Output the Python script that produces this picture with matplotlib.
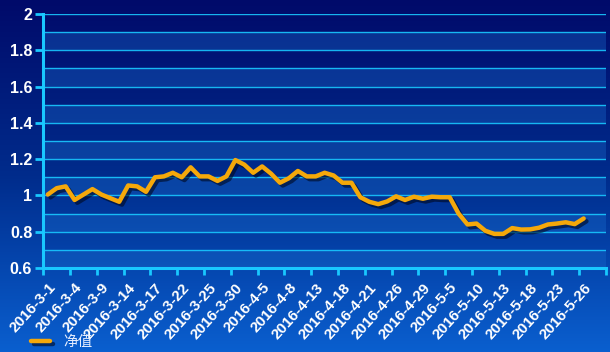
import numpy as np
import matplotlib.pyplot as plt
import matplotlib.patheffects as pe
from matplotlib.colors import LinearSegmentedColormap

plt.rcParams['font.family'] = ['Liberation Sans', 'Noto Sans CJK SC', 'DejaVu Sans']

# 净值 series, one value per trading day (2016-3-1 .. 2016-5-26)
nav = [1.005, 1.04, 1.05, 0.975, 1.005, 1.035, 1.005, 0.985, 0.965, 1.055,
       1.05, 1.02, 1.10, 1.105, 1.125, 1.10, 1.155, 1.105, 1.105, 1.08,
       1.105, 1.195, 1.17, 1.125, 1.16, 1.12, 1.07, 1.095, 1.135, 1.105,
       1.105, 1.125, 1.11, 1.07, 1.07, 0.99, 0.965, 0.952, 0.967, 0.995,
       0.975, 0.993, 0.982, 0.993, 0.99, 0.99, 0.90, 0.84, 0.845, 0.805,
       0.788, 0.788, 0.82, 0.812, 0.813, 0.822, 0.84, 0.845, 0.852, 0.842,
       0.873]
# every third date is labelled
date_labels = ['2016-3-1', '2016-3-4', '2016-3-9', '2016-3-14', '2016-3-17',
               '2016-3-22', '2016-3-25', '2016-3-30', '2016-4-5', '2016-4-8',
               '2016-4-13', '2016-4-18', '2016-4-21', '2016-4-26', '2016-4-29',
               '2016-5-5', '2016-5-10', '2016-5-13', '2016-5-18', '2016-5-23',
               '2016-5-26']
n_slots = 63  # category slots on the axis
y_ticks = [0.6, 0.8, 1.0, 1.2, 1.4, 1.6, 1.8, 2.0]
y_ticklabels = ['0.6', '0.8', '1', '1.2', '1.4', '1.6', '1.8', '2']

cyan = '#19c8ff'
orange = '#f5a80a'

fig = plt.figure(figsize=(6.1, 3.52), dpi=100)

# background gradient
bg = fig.add_axes([0, 0, 1, 1], zorder=-2)
cmap = LinearSegmentedColormap.from_list('bg', ['#000a6a', '#002c8c', '#0a5fcf'])
bg.imshow(np.linspace(0, 1, 256).reshape(-1, 1), aspect='auto', cmap=cmap,
          extent=[0, 1, 0, 1], origin='upper')
bg.axis('off')

ax = fig.add_axes([0.071, 0.2386, 0.9224, 0.7216])
ax.set_facecolor('none')

# alternating bands and grid lines every 0.1
for lo in np.arange(0.6, 2.0, 0.2):
    ax.axhspan(lo, lo + 0.1, color='#1a6fd0', alpha=0.35, lw=0, zorder=0)
for v in np.arange(0.7, 2.01, 0.1):
    ax.axhline(v, color=cyan, lw=1.0, alpha=0.9, zorder=1)

x = np.arange(len(nav))
ax.plot(x, nav, color=orange, lw=3.2, solid_joinstyle='round',
        solid_capstyle='round', zorder=3, label='净值',
        path_effects=[pe.SimpleLineShadow(offset=(2, -2), shadow_color='#000820', alpha=0.6),
                      pe.Normal()])

ax.set_xlim(-0.5, n_slots - 0.5)
ax.set_ylim(0.6, 2.0)

ax.set_yticks(y_ticks)
ax.set_yticklabels(y_ticklabels, color='white', fontsize=11.5, fontweight='bold')
ax.set_xticks(np.arange(0, len(nav), 3))
ax.set_xticklabels(date_labels, color='white', fontsize=11, fontweight='bold')
for lab in ax.get_xticklabels():
    lab.set_rotation(48)
    lab.set_rotation_mode('anchor')
    lab.set_ha('right')
    lab.set_va('top')
ax.tick_params(axis='x', which='major', length=0, pad=9)
ax.set_xticks(np.arange(-0.5, n_slots, 3), minor=True)
ax.tick_params(axis='x', which='minor', length=5, width=2, color=cyan)
ax.tick_params(axis='y', length=6, width=2, color=cyan, pad=2)

for s in ['top', 'right']:
    ax.spines[s].set_visible(False)
for s in ['left', 'bottom']:
    ax.spines[s].set_color(cyan)
    ax.spines[s].set_linewidth(2.2)

leg = ax.legend(loc='lower left', bbox_to_anchor=(-0.045, -0.37), frameon=False,
                fontsize=10.5, handlelength=1.3, handletextpad=0.9)
for t in leg.get_texts():
    t.set_color('#e6eeff')

fig.savefig('out.png', dpi=100)
